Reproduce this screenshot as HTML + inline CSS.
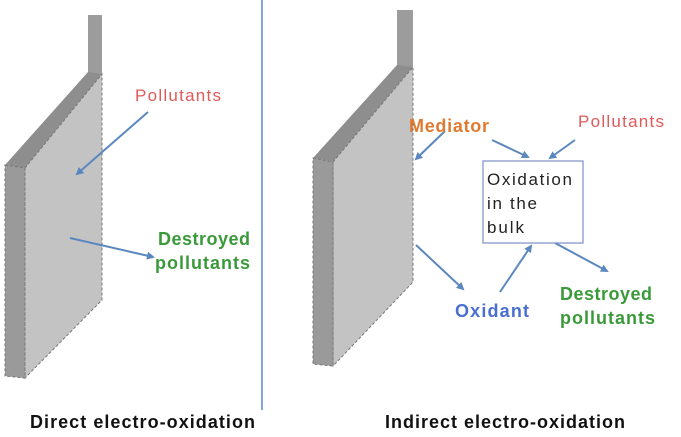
<!DOCTYPE html>
<html><head><style>
body{margin:0;background:#fff;}
svg{display:block;font-family:"Liberation Sans",Arial,sans-serif;}
</style></head><body>
<svg width="681" height="437" viewBox="0 0 681 437">
<defs><marker id="a" markerWidth="8" markerHeight="8" refX="6" refY="4" orient="auto" markerUnits="userSpaceOnUse"><path d="M0,0 L8,4 L0,8 z" fill="#5b87bf"/></marker></defs>
<line x1="262" y1="0" x2="262" y2="410" stroke="#5b87bf" stroke-width="1.5"/>
<rect x="88" y="15" width="14" height="60" fill="#9c9c9c"/>
<polygon points="5,165 88,72 102,74 25,168" fill="#8e8e8e"/>
<polygon points="25,168 102,74 102,300 25,378" fill="#c3c3c3" stroke="#777" stroke-dasharray="3,2"/>
<polygon points="5,165 25,168 25,378 5,376" fill="#9a9a9a" stroke="#777" stroke-dasharray="3,2"/>
<rect x="397" y="10" width="16" height="57" fill="#9c9c9c"/>
<polygon points="313,158 397,65 413,67 333,162" fill="#8e8e8e"/>
<polygon points="333,162 413,67 413,282 333,366" fill="#c3c3c3" stroke="#777" stroke-dasharray="3,2"/>
<polygon points="313,158 333,162 333,366 313,364" fill="#9a9a9a" stroke="#777" stroke-dasharray="3,2"/>
<g stroke="#5b87bf" stroke-width="2" marker-end="url(#a)">
<line x1="148" y1="112" x2="77" y2="174"/>
<line x1="70" y1="238" x2="153" y2="257"/>
<line x1="445" y1="131" x2="416" y2="159"/>
<line x1="492" y1="140" x2="528" y2="157"/>
<line x1="575" y1="140" x2="550" y2="158"/>
<line x1="416" y1="245" x2="463" y2="289"/>
<line x1="500" y1="292" x2="531" y2="246"/>
<line x1="555" y1="243" x2="607" y2="271"/>
</g>
<rect x="483" y="161" width="100" height="82" fill="#fff" stroke="#7b8fc4" stroke-width="1.2"/>
<text x="487" y="185" font-size="17" fill="#222" textLength="85">Oxidation</text>
<text x="487" y="209" font-size="17" fill="#222" textLength="50">in the</text>
<text x="487" y="233" font-size="17" fill="#222" textLength="37">bulk</text>
<text x="135" y="101" font-size="17" fill="#e05a5a" textLength="86">Pollutants</text>
<text x="158" y="245" font-size="18" font-weight="bold" fill="#3a9a3a" textLength="92">Destroyed</text>
<text x="155" y="269" font-size="18" font-weight="bold" fill="#3a9a3a" textLength="95">pollutants</text>
<text x="409" y="132" font-size="18" font-weight="bold" fill="#e07a30" textLength="80">Mediator</text>
<text x="578" y="127" font-size="17" fill="#e05a5a" textLength="86">Pollutants</text>
<text x="455" y="317" font-size="18" font-weight="bold" fill="#4a6fd0" textLength="74">Oxidant</text>
<text x="560" y="300" font-size="18" font-weight="bold" fill="#3a9a3a" textLength="92">Destroyed</text>
<text x="560" y="324" font-size="18" font-weight="bold" fill="#3a9a3a" textLength="95">pollutants</text>
<text x="30" y="428" font-size="18" font-weight="bold" fill="#111" textLength="225">Direct electro-oxidation</text>
<text x="385" y="428" font-size="18" font-weight="bold" fill="#111" textLength="240">Indirect electro-oxidation</text>
</svg>
</body></html>
